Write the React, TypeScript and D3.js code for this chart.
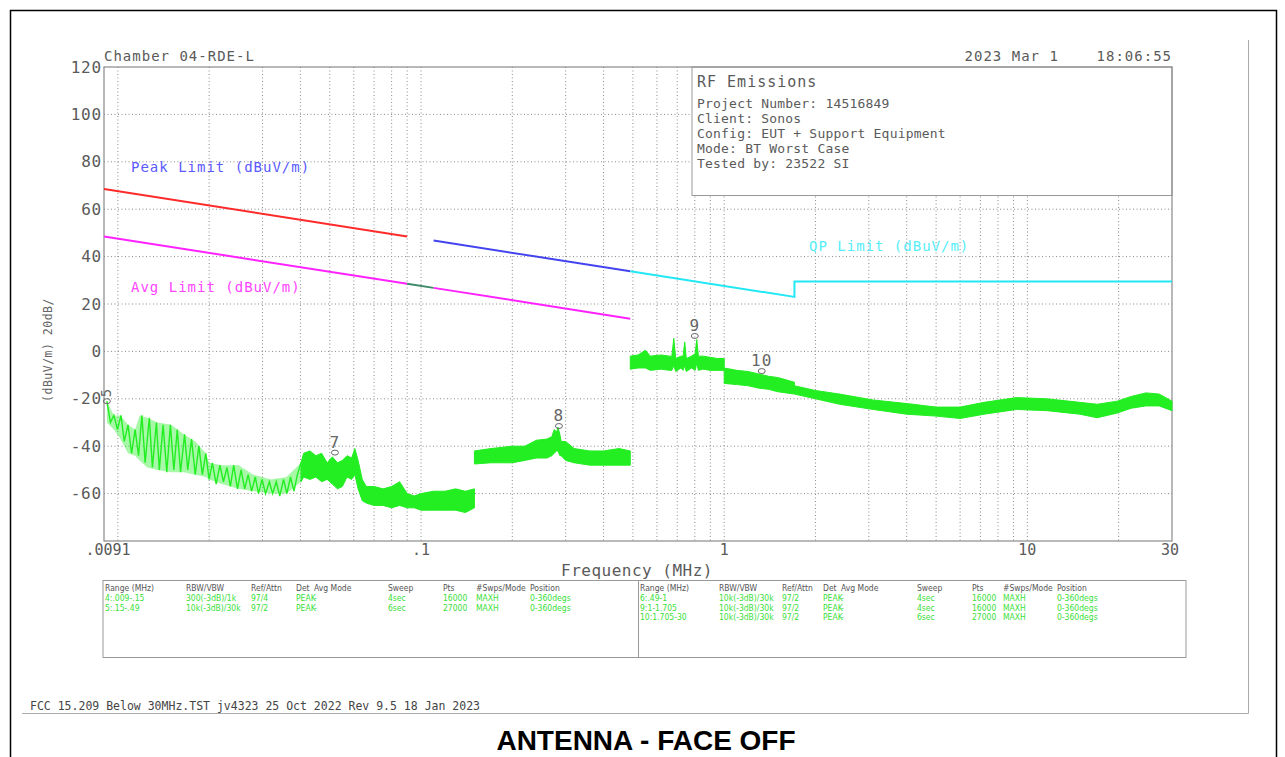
import React from "react";
import * as d3 from "d3";

// ---------- data ----------
const yTicks = [-60, -40, -20, 0, 20, 40, 60, 80, 100, 120];
const xTickFreqs = [0.009, 0.1, 1, 10, 30];
const xTickLabels = [".0091", ".1", "1", "10", "30"];

// limit lines (MHz, dBuV/m)
const peakLimitF = [0.009, 0.09];
const peakLimitV = [68.5, 48.5];
const peakLimit2F = [0.11, 0.49];
const peakLimit2V = [46.8, 33.8];
const avgLimitF1 = [0.009, 0.09];
const avgLimitV1 = [48.5, 28.5];
const avgLimitF2 = [0.11, 0.49];
const avgLimitV2 = [26.8, 13.8];
const qpBandF = [0.09, 0.11];
const qpBandV = [28.5, 26.8];
const qpLimitF = [0.49, 1.705, 1.705, 30];
const qpLimitV = [33.8, 23.0, 29.5, 29.5];

// low-frequency ripple trace (peak detector, 9 kHz - 40 kHz)
const rippleF = [
  0.0092, 0.00945, 0.0097, 0.00997, 0.01024, 0.0105, 0.0108, 0.0111, 0.0114, 0.0117,
  0.012, 0.0123, 0.0127, 0.013, 0.0134, 0.0137, 0.0141, 0.0145, 0.0149, 0.0153,
  0.0157, 0.0161, 0.0166, 0.017, 0.0175, 0.018, 0.0185, 0.019, 0.0195, 0.02,
  0.0205, 0.0211, 0.0217, 0.0223, 0.0229, 0.0235, 0.0241, 0.0248, 0.0255, 0.0262,
  0.0269, 0.0276, 0.0284, 0.0291, 0.0299, 0.0307, 0.0316, 0.0324, 0.0333, 0.0342,
  0.0352, 0.0361, 0.0371, 0.0381, 0.0391, 0.0402,
];
const rippleV = [
  -21, -30, -27, -33, -27, -38, -31, -43, -33, -44,
  -27, -47, -28, -49, -30, -50, -31, -51, -31, -50,
  -33, -51, -35, -50, -37, -52, -40, -52, -43, -54,
  -47, -56, -48, -55, -49, -57, -48, -58, -50, -58,
  -52, -59, -53, -60, -54, -60, -55, -60, -55, -61,
  -54, -60, -53, -59, -52, -47,
];
// envelope of the ripple region (dense strokes)
const rippleEnvF = [0.0092, 0.0097, 0.0102, 0.0108, 0.0114, 0.0118, 0.0125, 0.0135, 0.015, 0.0165, 0.018, 0.0195, 0.02, 0.022, 0.025, 0.028, 0.032, 0.036, 0.0402];
const rippleEnvHi = [-21, -27, -27, -31, -33, -27, -28, -30, -31, -35, -38, -43, -47, -48, -48, -52, -54, -53, -47];
const rippleEnvLo = [-30, -33, -37, -43, -44, -46, -49, -50, -51, -51, -52, -53, -54, -56, -58, -59, -60, -60, -55];

// envelope bands (frequency, upper, lower)
const band1F = [0.0402, 0.041, 0.043, 0.045, 0.047, 0.049, 0.051, 0.053, 0.055, 0.057, 0.059, 0.0605, 0.062, 0.064, 0.066, 0.07, 0.075, 0.08, 0.085, 0.09, 0.095, 0.1, 0.11, 0.12, 0.13, 0.14, 0.15];
const band1Hi = [-47, -43, -42, -44, -43, -47, -44.5, -47, -46, -44, -45, -41, -46, -54, -57, -57, -58, -57, -55, -60, -61, -60, -59, -59, -58, -59, -58];
const band1Lo = [-55, -53, -54, -53, -55, -54, -56, -58, -57, -53, -54, -52, -58, -63, -64, -65, -65, -66, -65, -66, -66, -67, -67, -67, -67, -68, -66];

const band2F = [0.15, 0.17, 0.2, 0.22, 0.24, 0.26, 0.27, 0.275, 0.28, 0.283, 0.287, 0.29, 0.3, 0.32, 0.36, 0.4, 0.45, 0.49];
const band2Hi = [-42, -41, -40, -40, -37.5, -37, -36, -33, -34, -32, -35, -38, -38, -41, -42, -42, -41, -42];
const band2Lo = [-47.5, -47, -47, -46, -45, -45, -44, -43, -42, -42, -44, -44, -46, -47, -48, -48, -48, -48];

const band3F = [0.49, 0.52, 0.55, 0.57, 0.62, 0.66, 0.672, 0.682, 0.692, 0.72, 0.732, 0.741, 0.75, 0.78, 0.802, 0.812, 0.822, 0.85, 0.9, 0.95, 1.0];
const band3Hi = [-2, -1.5, 0.5, -2, -1.5, -2, -2, 5.5, -3, -2, -2, 4, -3, -2, -1, 5, -2, -2, -2.5, -3, -3];
const band3Lo = [-7.5, -7, -7, -8, -7.5, -8, -8, -6, -8.5, -7, -8, -6, -8.5, -7, -8, -5, -8, -7.5, -8, -8, -8];

const band4F = [1.0, 1.1, 1.2, 1.3, 1.4, 1.5, 1.6, 1.705];
const band4Hi = [-7, -8, -8.5, -9.5, -10.5, -11, -12, -13];
const band4Lo = [-13.5, -14, -14.5, -15.5, -16, -17, -17.5, -18];

const band5F = [1.705, 2.0, 2.4, 3.1, 4.0, 5.0, 6.0, 7.2, 9.2, 11.6, 14.9, 17, 19.8, 22, 24.6, 27.2, 30];
const band5Hi = [-14.5, -16.5, -18, -20.5, -22, -23.5, -23.5, -21.5, -19.5, -20, -21.5, -22.3, -21, -19, -17.5, -18, -21];
const band5Lo = [-18, -20, -22.3, -24.5, -26.5, -27.3, -28.3, -26.5, -24.5, -25, -26.5, -28, -26, -24, -23, -23, -25];

// markers
const markerIds = ["5", "7", "8", "9", "10"];
const markerF = [0.0092, 0.052, 0.285, 0.8, 1.33];
const markerV = [-21, -42.7, -31.5, 6.5, -8.3];

// info
const infoLines = [
  "Project Number: 14516849",
  "Client: Sonos",
  "Config: EUT + Support Equipment",
  "Mode: BT Worst Case",
  "Tested by: 23522 SI",
];

// settings table
const tableHeaders = ["Range (MHz)", "RBW/VBW", "Ref/Attn", "Det", "Avg Mode", "Sweep", "Pts", "#Swps/Mode", "Position"];
const tableLeftRows = [
  ["4:.009-.15", "300(-3dB)/1k", "97/4", "PEAK", "-", "4sec", "16000", "MAXH", "0-360degs"],
  ["5:.15-.49", "10k(-3dB)/30k", "97/2", "PEAK", "-", "6sec", "27000", "MAXH", "0-360degs"],
];
const tableRightRows = [
  ["6:.49-1", "10k(-3dB)/30k", "97/2", "PEAK", "-", "4sec", "16000", "MAXH", "0-360degs"],
  ["9:1-1.705", "10k(-3dB)/30k", "97/2", "PEAK", "-", "4sec", "16000", "MAXH", "0-360degs"],
  ["10:1.705-30", "10k(-3dB)/30k", "97/2", "PEAK", "-", "6sec", "27000", "MAXH", "0-360degs"],
];

// ---------- layout ----------
const W = 1285;
const H = 757;
const X0 = 104;
const X1 = 1172;
const Y0 = 541;
const Y1 = 67;
const MONO = "'DejaVu Sans Mono', monospace";
const NARROW = "'Liberation Sans Narrow', 'DejaVu Sans Condensed', 'Liberation Sans', sans-serif";
const GREEN = "#22ee22";
const TXT = "#5a5a5a";

const leftCols = [105, 186, 251, 296, 314, 388, 443, 476, 530];
const rightCols = [640, 719, 782, 823, 841, 917, 972, 1003, 1057];

export default function App() {
  const x = d3.scaleLog().domain([0.009, 30]).range([X0, X1]);
  const y = d3.scaleLinear().domain([-80, 120]).range([Y0, Y1]);

  const gridX = x.ticks().filter((f) => f > 0.0095 && f < 29);
  const gridY = y.ticks(10).filter((v) => v > -80 && v < 120);

  const line = (fs: number[], vs: number[]) =>
    d3
      .line<number>()
      .x((_, i) => x(fs[i]))
      .y((v) => y(v))(vs) || "";

  const band = (fs: number[], hi: number[], lo: number[]) =>
    d3
      .area<number>()
      .x((f) => x(f))
      .y0((_, i) => y(lo[i]))
      .y1((_, i) => y(hi[i]))(fs) || "";

  const bands = [
    [band1F, band1Hi, band1Lo],
    [band2F, band2Hi, band2Lo],
    [band3F, band3Hi, band3Lo],
    [band4F, band4Hi, band4Lo],
    [band5F, band5Hi, band5Lo],
  ] as [number[], number[], number[]][];

  return (
    <svg
      width={W}
      height={H}
      style={{ position: "absolute", left: 0, top: 0, background: "#fff" }}
    >
      {/* page borders */}
      <rect x={0} y={0} width={W} height={H} fill="#fff" />
      <path d={`M10.5,757 V10.5 H1276.5 V757`} fill="none" stroke="#000" strokeWidth={1.5} />
      <path d={`M1248.5,40 V713.5 H22`} fill="none" stroke="#aaa" strokeWidth={1} />

      {/* grid */}
      <g stroke="#8a8a8a" strokeWidth={1} strokeDasharray="1,2.5">
        {gridX.map((f, i) => (
          <line key={"gx" + i} x1={x(f)} x2={x(f)} y1={Y1} y2={Y0} />
        ))}
        {gridY.map((v, i) => (
          <line key={"gy" + i} x1={X0} x2={X1} y1={y(v)} y2={y(v)} />
        ))}
      </g>

      {/* info box (covers grid) */}
      <rect x={692} y={Y1} width={X1 - 692} height={195.5 - Y1} fill="#fff" stroke="#999" strokeWidth={1} />
      <text x={697} y={87} fontFamily={MONO} fontSize={15} letterSpacing={1} fill={TXT}>
        RF Emissions
      </text>
      {infoLines.map((t, i) => (
        <text key={t} x={697} y={108 + i * 15} fontFamily={MONO} fontSize={13} letterSpacing={0.2} fill={TXT}>
          {t}
        </text>
      ))}

      {/* plot frame */}
      <rect x={X0} y={Y1} width={X1 - X0} height={Y0 - Y1} fill="none" stroke="#8a8a8a" strokeWidth={1.2} />

      {/* limit lines */}
      <path d={line(peakLimitF, peakLimitV)} stroke="#ff2a2a" strokeWidth={2} fill="none" />
      <path d={line(avgLimitF1, avgLimitV1)} stroke="#ff22ff" strokeWidth={2} fill="none" />
      <path d={line(qpBandF, qpBandV)} stroke="#3a8a68" strokeWidth={2} fill="none" />
      <path d={line(avgLimitF2, avgLimitV2)} stroke="#ff22ff" strokeWidth={2} fill="none" />
      <path d={line(peakLimit2F, peakLimit2V)} stroke="#4444ee" strokeWidth={2} fill="none" />
      <path d={line(qpLimitF, qpLimitV)} stroke="#22e8f5" strokeWidth={2} fill="none" />

      {/* limit labels */}
      <text x={131} y={172} fontFamily={MONO} fontSize={14} letterSpacing={1} fill="#5a5aff">
        Peak Limit (dBuV/m)
      </text>
      <text x={131} y={292} fontFamily={MONO} fontSize={14} letterSpacing={1} fill="#ff44ff">
        Avg Limit (dBuV/m)
      </text>
      <text x={809} y={251} fontFamily={MONO} fontSize={14} letterSpacing={1} fill="#55eef8">
        QP Limit (dBuV/m)
      </text>

      {/* trace */}
      <path d={band(rippleEnvF, rippleEnvHi, rippleEnvLo)} fill={GREEN} fillOpacity={0.4} stroke="none" />
      <path d={line(rippleF, rippleV)} stroke={GREEN} strokeWidth={1.4} fill="none" />
      {bands.map(([f, hi, lo], i) => (
        <path key={"b" + i} d={band(f, hi, lo)} fill={GREEN} stroke={GREEN} strokeWidth={1} strokeLinejoin="round" />
      ))}

      {/* markers */}
      {markerIds.map((id, i) => {
        const mx = x(markerF[i]);
        const my = y(markerV[i]);
        return (
          <g key={"m" + id}>
            <ellipse cx={mx} cy={my} rx={3.5} ry={2.5} fill="none" stroke="#666" strokeWidth={1} />
            {id === "5" ? (
              <text
                transform={`translate(${mx + 4},${my - 4}) rotate(-90)`}
                fontFamily={MONO}
                fontSize={14}
                fill="#666"
              >
                {id}
              </text>
            ) : (
              <text x={mx} y={my - 5} textAnchor="middle" fontFamily={MONO} fontSize={16} letterSpacing={1} fill="#666">
                {id}
              </text>
            )}
          </g>
        );
      })}

      {/* y axis labels */}
      {yTicks.map((v) => (
        <text key={"yl" + v} x={102} y={y(v) + 5.5} textAnchor="end" fontFamily={MONO} fontSize={16} letterSpacing={0.8} fill={TXT}>
          {v}
        </text>
      ))}
      <text
        transform="translate(52,350) rotate(-90)"
        textAnchor="middle"
        fontFamily={MONO}
        fontSize={11.5}
        letterSpacing={0.5}
        fill="#666"
      >
        (dBuV/m)  20dB/
      </text>

      {/* x axis labels */}
      {xTickFreqs.map((f, i) => (
        <text
          key={"xl" + i}
          x={x(f) + (i === 0 ? 4 : i === 4 ? -2 : 0)}
          y={555}
          textAnchor="middle"
          fontFamily={MONO}
          fontSize={15}
          fill={TXT}
        >
          {xTickLabels[i]}
        </text>
      ))}
      <text x={637} y={576} textAnchor="middle" fontFamily={MONO} fontSize={16} letterSpacing={0.5} fill={TXT}>
        Frequency (MHz)
      </text>

      {/* header texts */}
      <text x={104} y={61} fontFamily={MONO} fontSize={14} letterSpacing={1} fill={TXT}>
        Chamber 04-RDE-L
      </text>
      <text x={1172} y={61} textAnchor="end" fontFamily={MONO} fontSize={14} letterSpacing={1} fill={TXT} xmlSpace="preserve">
        {"2023 Mar 1    18:06:55"}
      </text>

      {/* settings table */}
      <rect x={103} y={580.5} width={1083} height={77} fill="none" stroke="#999" strokeWidth={1} />
      <line x1={638.5} x2={638.5} y1={580.5} y2={657.5} stroke="#999" strokeWidth={1} />
      {tableHeaders.map((h, i) => (
        <g key={"th" + i}>
          <text x={leftCols[i]} y={591} fontFamily={NARROW} fontSize={8.5} fill="#555">
            {h}
          </text>
          <text x={rightCols[i]} y={591} fontFamily={NARROW} fontSize={8.5} fill="#555">
            {h}
          </text>
        </g>
      ))}
      {tableLeftRows.map((row, r) =>
        row.map((c, i) => (
          <text key={`tl${r}-${i}`} x={leftCols[i]} y={601 + r * 9.5} fontFamily={NARROW} fontSize={8.5} fill="#3ae03a">
            {c}
          </text>
        ))
      )}
      {tableRightRows.map((row, r) =>
        row.map((c, i) => (
          <text key={`tr${r}-${i}`} x={rightCols[i]} y={601 + r * 9.5} fontFamily={NARROW} fontSize={8.5} fill="#3ae03a">
            {c}
          </text>
        ))
      )}

      {/* footer */}
      <text x={30} y={710} fontFamily={MONO} fontSize={11.5} fill="#444">
        FCC 15.209 Below 30MHz.TST  jv4323 25 Oct 2022 Rev 9.5 18 Jan 2023
      </text>
      <text
        x={646}
        y={750}
        textAnchor="middle"
        fontFamily="'Liberation Sans', Arial, sans-serif"
        fontWeight="bold"
        fontSize={28}
        fill="#000"
      >
        ANTENNA - FACE OFF
      </text>
    </svg>
  );
}
